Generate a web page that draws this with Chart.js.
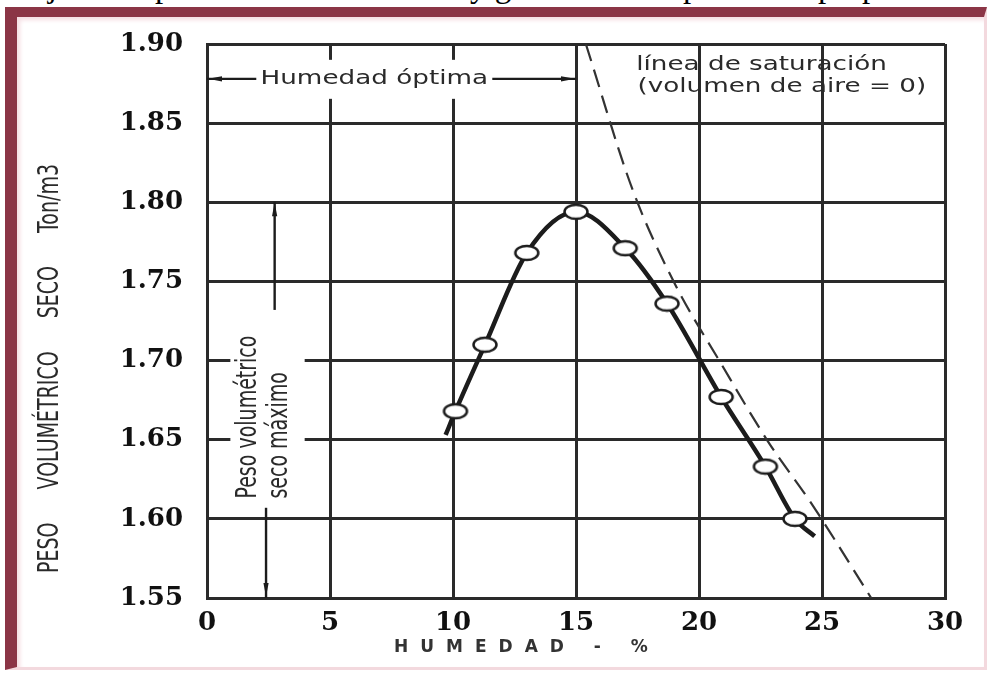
<!DOCTYPE html>
<html lang="es">
<head>
<meta charset="utf-8">
<title>Curva de compactación</title>
<script src="https://cdn.jsdelivr.net/npm/chart.js@4.4.1/dist/chart.umd.min.js"></script>
<style>
  html, body { margin: 0; padding: 0; background: #fff; }
  body { width: 990px; height: 673px; position: relative; overflow: hidden; }
  #textoSuperior {
    position: absolute; left: 0; top: -30px; width: 990px; height: 37px; overflow: hidden;
    font: 33px/33px "Liberation Serif", "Times New Roman", serif; color: #000; white-space: nowrap;
  }
  #textoSuperior span { position: absolute; top: 0; }
  #marco {
    position: absolute; left: 5px; top: 7px; width: 982px; height: 663px;
    border-top: 10px solid #8b3546; border-left: 12px solid #8b3546;
    border-right: 3px solid #f3d9de; border-bottom: 3px solid #f3d9de;
    box-sizing: border-box; background: #fff;
    box-shadow: inset 3px 3px 4px #f5dde2;
  }
  #lienzo { position: absolute; left: 0; top: 0; }
</style>
</head>
<body>
<div id="textoSuperior">
  <span style="left:-18px">Dibujo de un</span>
  <span style="left:155px">peso volumétrico seco</span>
  <span style="left:470px">y grado de humedad</span>
  <span style="left:683px">para estas</span>
  <span style="left:818px">propiedades</span>
</div>
<div id="marco"></div>
<canvas id="lienzo" width="990" height="673"></canvas>

<script>
/* ================= DATOS ================= */

// puntos del ensayo: humedad (%) y peso volumétrico seco (Ton/m3)
const humedad = [10.1, 11.3, 13.0, 15.0, 17.0, 18.7, 20.9, 22.7, 23.9];
const pesoSeco = [1.668, 1.710, 1.768, 1.794, 1.771, 1.736, 1.677, 1.633, 1.600];

// curva trazada por los puntos, con sus dos extremos
const curvaHumedad = [9.7, 10.1, 11.3, 13.0, 15.0, 17.0, 18.7, 20.9, 22.7, 23.9, 24.7];
const curvaPeso = [1.653, 1.668, 1.710, 1.768, 1.794, 1.771, 1.736, 1.677, 1.633, 1.600, 1.589];

// línea de saturación (volumen de aire = 0)
const saturacionHumedad = [15.4, 17.3, 19.0, 20.9, 22.8, 24.6, 27.0];
const saturacionPeso = [1.900, 1.808, 1.749, 1.698, 1.649, 1.609, 1.550];

const ticksHumedad = [0, 5, 10, 15, 20, 25, 30];
const ticksPeso = [1.55, 1.60, 1.65, 1.70, 1.75, 1.80, 1.85, 1.90];

/* ================= ESTILO ================= */

const NEGRO = "#1c1c1c";
const GRIS = "#2a2a2a";
const FUENTE = '19px "DejaVu Sans", Verdana, sans-serif';
const ESTIRADO = 1.38; // el dibujo original esta ensanchado en horizontal

function crearMarcador() {
  const c = document.createElement("canvas");
  c.width = 28;
  c.height = 18;
  const g = c.getContext("2d");
  g.beginPath();
  g.ellipse(14, 9, 11.5, 7, 0, 0, Math.PI * 2);
  g.fillStyle = "#fff";
  g.fill();
  g.lineWidth = 2.5;
  g.strokeStyle = NEGRO;
  g.stroke();
  return c;
}

function escribir(ctx, texto, x, y, o = {}) {
  ctx.save();
  ctx.translate(x, y);
  ctx.scale(o.sx || ESTIRADO, 1);
  if (o.rot) ctx.rotate(o.rot);
  ctx.font = o.font || FUENTE;
  ctx.fillStyle = o.color || GRIS;
  ctx.textAlign = o.align || "left";
  ctx.textBaseline = o.baseline || "middle";
  if (o.spacing) ctx.letterSpacing = o.spacing;
  ctx.fillText(texto, 0, 0);
  ctx.restore();
}

function linea(ctx, x1, y1, x2, y2, ancho) {
  ctx.beginPath();
  ctx.moveTo(x1, y1);
  ctx.lineTo(x2, y2);
  ctx.lineWidth = ancho;
  ctx.strokeStyle = NEGRO;
  ctx.stroke();
}

// punta de flecha: vertice en (x, y), apuntando en la direccion (dx, dy)
function punta(ctx, x, y, dx, dy) {
  const largo = 14, medio = 2.6;
  const bx = x - dx * largo, by = y - dy * largo;
  ctx.beginPath();
  ctx.moveTo(x, y);
  ctx.lineTo(bx - dy * medio, by + dx * medio);
  ctx.lineTo(bx + dy * medio, by - dx * medio);
  ctx.closePath();
  ctx.fillStyle = NEGRO;
  ctx.fill();
}

/* ================= ANOTACIONES ================= */

const anotaciones = {
  id: "anotaciones",

  beforeDraw(chart) {
    const ctx = chart.ctx;
    const { x, y } = chart.scales;

    // leyenda de saturacion, queda por debajo de la cuadricula
    escribir(ctx, "línea de saturación", x.getPixelForValue(17.45), y.getPixelForValue(1.887));
    escribir(ctx, "(volumen de aire = 0)", x.getPixelForValue(17.5), y.getPixelForValue(1.873));

    // titulo del eje vertical, palabra por palabra de abajo hacia arriba
    const palabras = ["PESO", "VOLUMÉTRICO", "SECO", "Ton/m3"];
    const fuenteEje = '19px "DejaVu Sans", sans-serif';
    ctx.font = fuenteEje;
    let yPos = 573;
    palabras.forEach(p => {
      escribir(ctx, p, 51, yPos, { rot: -Math.PI / 2, sx: 1.5, font: fuenteEje, align: "left" });
      yPos -= ctx.measureText(p).width + 33;
    });

    // titulo del eje horizontal
    escribir(ctx, "HUMEDAD - %", 394, 648, {
      sx: 1, font: 'bold 17px "DejaVu Sans", sans-serif', spacing: "12px", color: "#333"
    });
  },

  beforeDatasetsDraw(chart) {
    const ctx = chart.ctx;
    const { x, y } = chart.scales;

    // humedad optima
    const yF = y.getPixelForValue(1.878);
    const x0 = x.getPixelForValue(0);
    const x15 = x.getPixelForValue(15);
    const xc = x.getPixelForValue(6.8);
    linea(ctx, x0, yF, x15, yF, 2.2);
    punta(ctx, x0 + 1, yF, -1, 0);
    punta(ctx, x15 - 1, yF, 1, 0);
    ctx.fillStyle = "#fff";
    ctx.fillRect(xc - 118, yF - 19, 236, 39);
    escribir(ctx, "Humedad óptima", xc, yF, { align: "center" });

    // peso volumetrico seco maximo
    const xa = x.getPixelForValue(2.75);
    const xb = x.getPixelForValue(2.4);
    linea(ctx, xa, y.getPixelForValue(1.80), xa, y.getPixelForValue(1.732), 2.4);
    punta(ctx, xa, y.getPixelForValue(1.80), 0, -1);
    linea(ctx, xb, y.getPixelForValue(1.607), xb, y.getPixelForValue(1.55), 2.4);
    punta(ctx, xb, y.getPixelForValue(1.55) - 1, 0, 1);

    const izq = x.getPixelForValue(0.95), der = x.getPixelForValue(3.97);
    const arr = y.getPixelForValue(1.725), aba = y.getPixelForValue(1.6095);
    ctx.fillStyle = "#fff";
    ctx.fillRect(izq, arr, der - izq, aba - arr);
    const yBase = y.getPixelForValue(1.6128);
    escribir(ctx, "Peso volumétrico", x.getPixelForValue(1.7), yBase, { rot: -Math.PI / 2, sx: 1.45 });
    escribir(ctx, "seco máximo", x.getPixelForValue(2.95), yBase, { rot: -Math.PI / 2, sx: 1.45 });
  }
};

/* ================= GRAFICO ================= */

const marcador = crearMarcador();

const pares = (xs, ys) => xs.map((v, i) => ({ x: v, y: ys[i] }));

new Chart(document.getElementById("lienzo"), {
  type: "scatter",
  data: {
    datasets: [
      {
        data: pares(humedad, pesoSeco),
        pointStyle: marcador,
        pointRadius: 9,
        showLine: false,
        order: 1
      },
      {
        data: pares(curvaHumedad, curvaPeso),
        showLine: true,
        borderColor: NEGRO,
        borderWidth: 4.5,
        pointRadius: 0,
        cubicInterpolationMode: "monotone",
        order: 2
      },
      {
        data: pares(saturacionHumedad, saturacionPeso),
        showLine: true,
        borderColor: "#333",
        borderWidth: 2.2,
        borderDash: [18, 9],
        pointRadius: 0,
        cubicInterpolationMode: "monotone",
        order: 3
      }
    ]
  },
  options: {
    responsive: false,
    animation: false,
    devicePixelRatio: 1,
    layout: { padding: { left: 0, top: 44, right: 45, bottom: 0 } },
    plugins: {
      legend: { display: false },
      tooltip: { enabled: false }
    },
    scales: {
      x: {
        type: "linear",
        min: 0,
        max: 30,
        afterBuildTicks: s => { s.ticks = ticksHumedad.map(v => ({ value: v })); },
        afterFit: s => { s.height = 75; },
        grid: { color: GRIS, lineWidth: 3, drawTicks: false },
        border: { color: GRIS, width: 3 },
        ticks: {
          autoSkip: false,
          maxRotation: 0,
          padding: 10,
          color: "#111",
          font: { family: "DejaVu Serif", size: 26, weight: "bold" }
        }
      },
      y: {
        type: "linear",
        min: 1.55,
        max: 1.90,
        afterBuildTicks: s => { s.ticks = ticksPeso.map(v => ({ value: v })); },
        afterFit: s => { s.width = 207; },
        grid: { color: GRIS, lineWidth: 3, drawTicks: false },
        border: { color: GRIS, width: 3 },
        ticks: {
          padding: 24,
          color: "#111",
          font: { family: "DejaVu Serif", size: 26, weight: "bold" },
          callback: v => v.toFixed(2)
        }
      }
    }
  },
  plugins: [anotaciones]
});
</script>
</body>
</html>
